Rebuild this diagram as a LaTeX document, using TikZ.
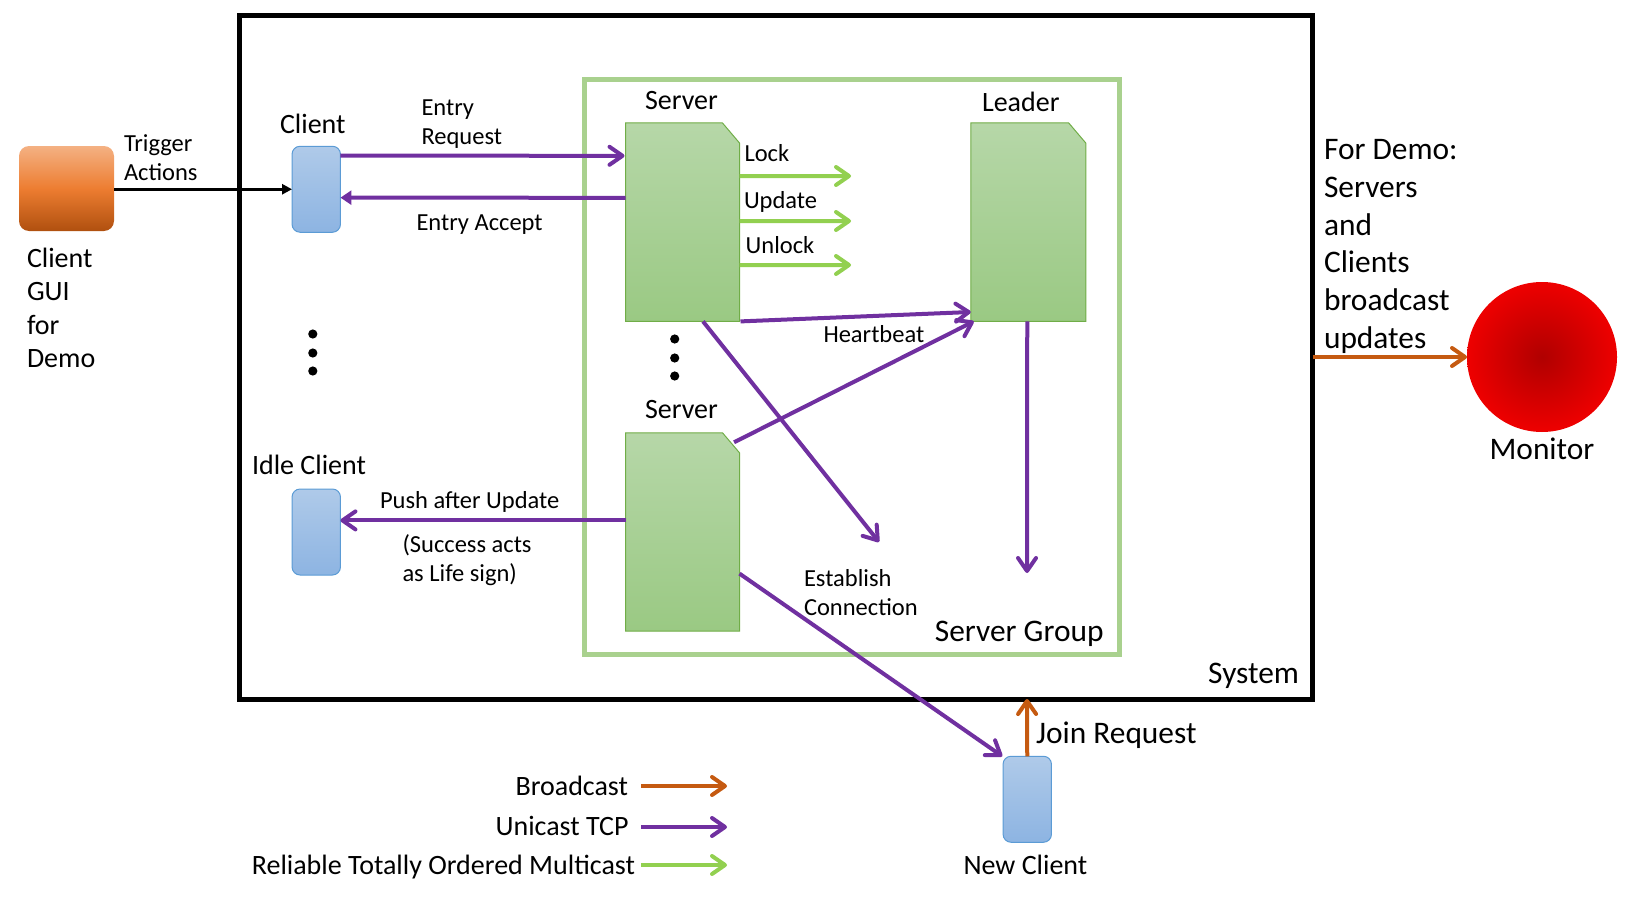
\documentclass[tikz,border=0pt]{standalone}
\usepackage{fontspec}
\setmainfont{Carlito}
\usepackage{tikz}
\usetikzlibrary{positioning, arrows.meta}

\definecolor{clientedge}{HTML}{5B9BD5}
\definecolor{clienttop}{HTML}{AFCAE9}
\definecolor{clientbot}{HTML}{8DB4E2}
\definecolor{serveredge}{HTML}{70AD47}
\definecolor{servertop}{HTML}{B6D7A8}
\definecolor{serverbot}{HTML}{9AC983}
\definecolor{groupedge}{HTML}{A9D18E}
\definecolor{ucpurple}{HTML}{7030A0}
\definecolor{mcgreen}{HTML}{92D050}
\definecolor{bcorange}{HTML}{C55A11}
\definecolor{guitop}{HTML}{F4B183}
\definecolor{guimid}{HTML}{ED7D31}
\definecolor{guibot}{HTML}{B0500F}
\definecolor{moncore}{HTML}{B00000}
\definecolor{monrim}{HTML}{EE0000}

% page with the snipped corner, drawn over a plain node
\newcommand{\serverpage}[1]{
  \draw[serveredge,line width=0.5pt,top color=servertop,bottom color=serverbot]
    (#1.south west) -- (#1.north west) -- ([xshift=-8.5pt]#1.north east)
    -- ([yshift=-10pt]#1.north east) -- (#1.south east) -- cycle;
}

\begin{document}
\begin{tikzpicture}[x=0.5pt, y=-0.5pt, inner sep=0pt, outer sep=0pt,
  small text/.style={font=\fontsize{12.25}{14.35}\selectfont},
  mid text/.style={font=\fontsize{14}{16.75}\selectfont},
  big text/.style={font=\fontsize{15.7}{18.9}\selectfont},
  client node/.style={rectangle,rounded corners=4pt,draw=clientedge,line width=0.5pt,
    top color=clienttop,bottom color=clientbot,minimum width=24.2pt,minimum height=43pt},
  server node/.style={rectangle,minimum width=57pt,minimum height=99.2pt},
  dot node/.style={circle,fill=black,minimum size=4.6pt},
  link/.style={line width=2pt,-{Straight Barb[length=6.5pt,width=9pt,round]}},
  unicast/.style={link,color=ucpurple},
  multicast/.style={link,color=mcgreen},
  broadcast/.style={link,color=bcorange}]

\useasboundingbox (0,0) rectangle (1637,899);

\node[draw=black,line width=2.5pt,minimum width=536.5pt,minimum height=341.5pt] (system) at (776,357.5) {};
\node[draw=groupedge,line width=2.5pt,minimum width=267.5pt,minimum height=287.25pt] (group) at (851.5,366.75) {};

\node[rectangle,rounded corners=5pt,top color=guitop,bottom color=guibot,middle color=guimid,
  minimum width=47.5pt,minimum height=42.5pt] (gui) at (66.5,188.5) {};

\node[client node] (client) at (316.25,189.25) {};
\node[client node] (idle) at (316.25,532) {};
\node[client node] (newclient) at (1027.25,799.25) {};
\node[server node] (server1) at (682.5,222.2) {};
\node[server node] (server2) at (682.5,532) {};
\node[server node,minimum width=57.5pt] (leader) at (1028.25,222.2) {};
\serverpage{server1}
\serverpage{server2}
\serverpage{leader}
\node[circle,inner color=moncore,outer color=monrim,minimum size=75pt] (monitor) at (1542,357) {};

\foreach \y [count=\i] in {334,353,371}
  \node[dot node] (cdot\i) at (312.8,\y) {};
\foreach \y [count=\i] in {339,358,376}
  \node[dot node] (sdot\i) at (674.7,\y) {};

\coordinate (lockend) at (851,176);
\coordinate (updateend) at (851,221);
\coordinate (unlockend) at (851,265);
\coordinate (connectend) at (879,542);
\coordinate (leaderend) at (1027,573);
\coordinate (bcfrom) at (641,786);
\coordinate (bcto) at (727,786);
\coordinate (ucfrom) at (641,827);
\coordinate (ucto) at (727,827);
\coordinate (mcfrom) at (641,865);
\coordinate (mcto) at (727,865);

\draw[line width=1.5pt,-{Triangle[length=5pt,width=5pt]}] (gui.east |- client.west) -- (client.west);

\path[unicast]
([yshift=16.8pt]client.east) edge ([xshift=-0.5pt,yshift=33.2pt]server1.west)
([xshift=0.5pt]server1.south east) edge ([yshift=4.7pt]leader.south west)
([xshift=10.25pt]server1.south) edge (connectend)
([xshift=-0.5pt]leader.south) edge (leaderend)
([xshift=-2.7pt,yshift=-4.75pt]server2.north east) edge ([xshift=1.5pt]leader.south west)
([yshift=-20.8pt]server2.east) edge ([xshift=-12.5pt]newclient.north)
([yshift=5.8pt]server2.west) edge ([yshift=5.8pt]idle.east)
;
\draw[line width=2pt,ucpurple,-{Triangle[length=5.5pt,width=7pt]}]
  ([yshift=12.2pt]server1.west) -- ([yshift=-4.2pt]client.east);

\path[multicast]
([yshift=23.1pt]server1.east) edge (lockend)
([yshift=0.6pt]server1.east) edge (updateend)
([yshift=-21.4pt]server1.east) edge (unlockend)
;

\path[broadcast]
(newclient.north) edge ([xshift=125.5pt]system.south)
(system.east |- monitor.west) edge (monitor.west)
;

\path[broadcast] (bcfrom) edge (bcto);
\path[unicast] (ucfrom) edge (ucto);
\path[multicast] (mcfrom) edge (mcto);

\node[small text,anchor=base west,align=left] (trigger) at (124,180) {Trigger\\Actions};
\node[small text,anchor=base west,align=left] (request) at (421.5,144) {Entry\\Request};
\node[small text,anchor=base west] (accept) at (416.5,230) {Entry Accept};
\node[small text,anchor=base west] (lock) at (744.5,162) {Lock};
\node[small text,anchor=base west] (update) at (744,208) {Update};
\node[small text,anchor=base west] (unlock) at (745.7,253) {Unlock};
\node[small text,anchor=base west] (heartbeat) at (823.5,342.7) {Heartbeat};
\node[small text,anchor=base west] (push) at (380,508) {Push after Update};
\node[small text,anchor=base west,align=left] (success) at (402.5,581) {(Success acts\\as Life sign)};
\node[small text,anchor=base west,align=left] (establish) at (804,615.5) {Establish\\Connection};

\node[mid text,anchor=base west] (clientlabel) at (280,133.5) {Client};
\node[mid text,anchor=base west] (server1label) at (645,109.5) {Server};
\node[mid text,anchor=base west] (server2label) at (645,418) {Server};
\node[mid text,anchor=base west] (leaderlabel) at (982,111.5) {Leader};
\node[mid text,anchor=base west] (idlelabel) at (252,474) {Idle Client};
\node[mid text,anchor=base west] (newlabel) at (963.5,874) {New Client};
\node[mid text,anchor=base west,align=left] (guilabel) at (27,367.7) {Client\\GUI\\for\\Demo};
\node[mid text,anchor=base east] (bclabel) at (628,795) {Broadcast};
\node[mid text,anchor=base east] (uclabel) at (628.5,835.7) {Unicast TCP};
\node[mid text,anchor=base east] (mclabel) at (635,874) {Reliable Totally Ordered Multicast};

\node[big text,anchor=base east] (grouplabel) at (1103.5,641) {Server Group};
\node[big text,anchor=base east] (systemlabel) at (1299,683.5) {System};
\node[big text,anchor=base west] (joinlabel) at (1036,743.5) {Join Request};
\node[big text,anchor=base] (monitorlabel) at (1542,459.5) {Monitor};
\node[big text,anchor=base west,align=left] (demolabel) at (1324,348.5) {For Demo:\\Servers\\and\\Clients\\broadcast\\updates};

\end{tikzpicture}
\end{document}
